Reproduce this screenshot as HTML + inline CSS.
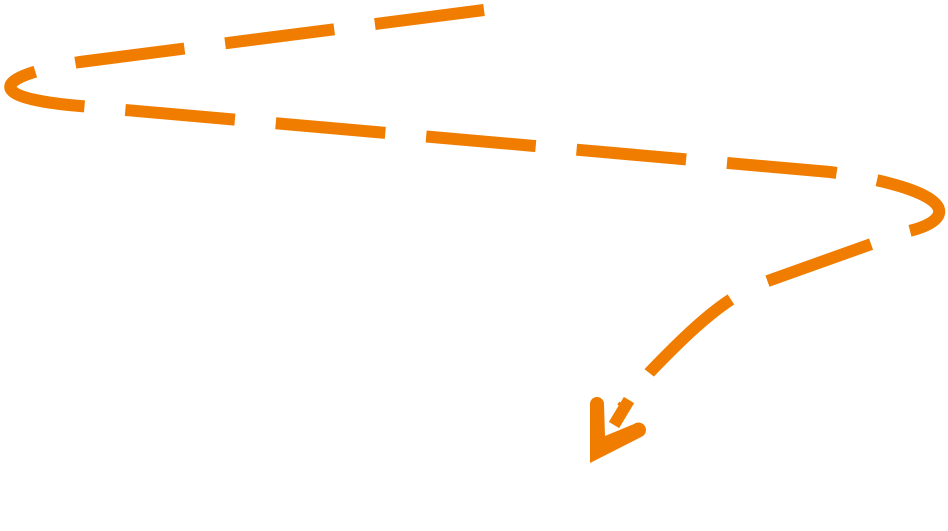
<!DOCTYPE html>
<html><head><style>html,body{margin:0;padding:0;background:#fff;width:948px;height:531px;overflow:hidden}</style></head>
<body>
<svg width="948" height="531" viewBox="0 0 948 531" xmlns="http://www.w3.org/2000/svg">
<path d="M484,10 L80,62 C-8,76 -18,98 80,106 L830,172 C958,190 960,220 905,232 L765,282 C730,295 700,320 650,372 L622,408" fill="none" stroke="#F07D00" stroke-width="12" stroke-dasharray="110 41"/>
<path d="M590,463 L590,404 A7,7 0 0 1 604,404 L605,436 L634,424 A7,7 0 0 1 643,436 Z" fill="#F07D00"/>
<line x1="629" y1="400" x2="614" y2="425" stroke="#F07D00" stroke-width="12"/>
</svg>
</body></html>
